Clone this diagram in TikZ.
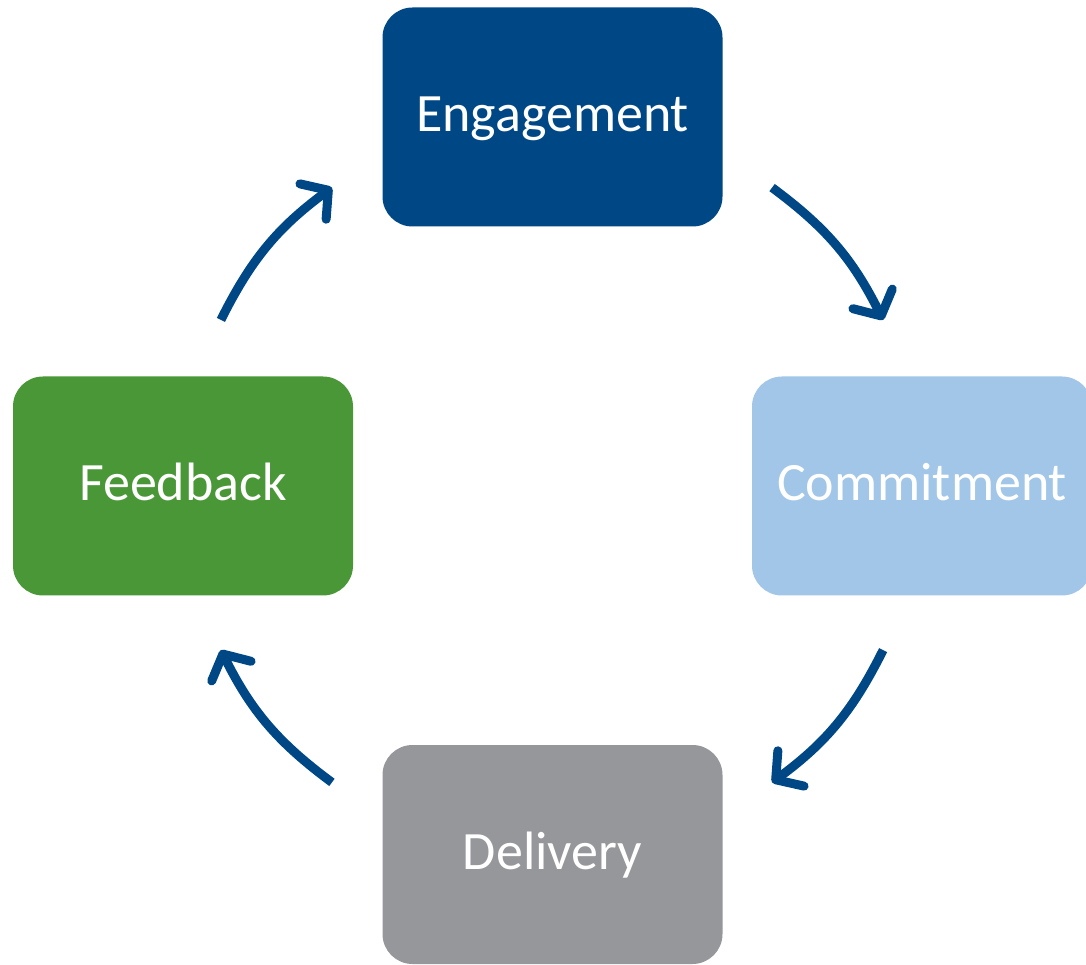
\documentclass[tikz,border=0pt]{standalone}
\usepackage{fontspec}
\setmainfont{Carlito}
\usetikzlibrary{arrows.meta,calc}
\definecolor{engblue}{HTML}{004785}
\definecolor{comblue}{HTML}{A2C6E8}
\definecolor{fbgreen}{HTML}{4A9737}
\definecolor{delgray}{HTML}{96979B}
\definecolor{arrowblue}{HTML}{004785}
\begin{document}
\begin{tikzpicture}[x=1pt,y=1pt,
  box/.style={rectangle, rounded corners=30pt, minimum width=340pt, minimum height=219pt,
    text=white, font=\fontsize{54}{60}\selectfont, inner sep=0pt, text height=34pt, text depth=4pt},
  arr/.style={draw=arrowblue, line width=9pt, -{Straight Barb[length=19pt,width=44pt,round]}}
]
\useasboundingbox (0,0) rectangle (1086,964);
\node[box, fill=engblue] (eng) at (552.5,847) {Engagement};
\node[box, fill=comblue] (com) at (922,478) {Commitment};
\node[box, fill=fbgreen] (fb) at (183,478) {Feedback};
\node[box, fill=delgray] (del) at (552.5,109.5) {Delivery};
\coordinate (c) at (552,479);
\coordinate (a1s) at ($(c)+(53.5:370)$);
\coordinate (a1e) at ($(c)+(26.5:370)$);
\coordinate (a2s) at ($(c)+(-26.5:370)$);
\coordinate (a2e) at ($(c)+(-53.5:370)$);
\coordinate (a3s) at ($(c)+(-126.5:370)$);
\coordinate (a3e) at ($(c)+(-153.5:370)$);
\coordinate (a4s) at ($(c)+(153.5:370)$);
\coordinate (a4e) at ($(c)+(126.5:370)$);
\draw[arr] (a1s) to[bend left=13.5] (a1e);
\draw[arr] (a2s) to[bend left=13.5] (a2e);
\draw[arr] (a3s) to[bend left=13.5] (a3e);
\draw[arr] (a4s) to[bend left=13.5] (a4e);
\end{tikzpicture}
\end{document}
